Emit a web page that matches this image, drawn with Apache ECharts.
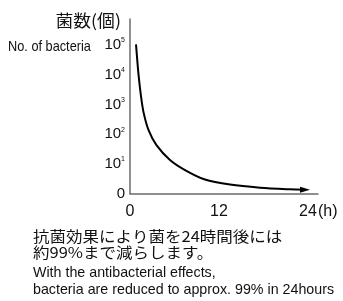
<!DOCTYPE html>
<html>
<head>
  <meta charset="UTF-8">
  <title>菌数</title>
  <script src="https://cdn.jsdelivr.net/npm/echarts@6/dist/echarts.min.js"></script>
</head>
<style type="text/css">
  html,body {padding: 0; margin: 0; background: #fff}
  #chart {width: 343px; height: 301px}
</style>
<body>
<div id="chart"></div>
<script type="text/javascript">
  // hours after treatment
  var hours = [0.81, 1.15, 1.48, 1.82, 2.49, 3.57, 5.39, 7.42, 10.11, 13.48, 17.53, 21.57, 23.6];
  // bacteria count, in steps of the drawn scale (0 .. 10^5 -> 0 .. 5)
  var counts = [5.02, 4.0, 3.28, 2.74, 2.14, 1.63, 1.13, 0.79, 0.47, 0.3, 0.195, 0.14, 0.125];
  var xTicks = [0, 12, 24];
  var yTicks = ['0', '10{s|1}', '10{s|2}', '10{s|3}', '10{s|4}', '10{s|5}'];
  var textLines = ['抗菌効果により菌を24時間後には', '約99%まで減らします。'];
  var enLines = ['With the antibacterial effects,', 'bacteria are reduced to approx. 99% in 24hours'];

  var sans = '"Liberation Sans", Arial, sans-serif';
  var jp = '"Noto Sans CJK JP", sans-serif';

  var data = hours.map(function (h, i) { return [h, counts[i]]; });
  var last = data.pop();
  data.push({value: last, symbol: 'triangle', symbolSize: [6, 10], symbolRotate: -90});

  function label(x, y, text, font, scaleX, align) {
    return {
      type: 'text', x: x, y: y, scaleX: scaleX || 1,
      style: {text: text, font: font, fill: '#111', textAlign: align || 'left', textVerticalAlign: 'middle'}
    };
  }

  var option = {
    animation: false,
    grid: {left: 130, right: 25, top: 19, bottom: 107.5},
    xAxis: {
      type: 'value', min: 0, max: 25.35, interval: 12,
      splitLine: {show: false},
      axisTick: {show: false},
      axisLine: {lineStyle: {color: '#6b6b6b', width: 1.5}},
      axisLabel: {
        margin: 10, color: '#111', fontSize: 16, fontFamily: sans,
        formatter: function (v) { return xTicks.indexOf(v) >= 0 ? String(v) : ''; }
      }
    },
    yAxis: {
      type: 'value', min: 0, max: 5.875, interval: 1,
      splitLine: {show: false},
      axisTick: {show: false},
      axisLine: {show: true, lineStyle: {color: '#6b6b6b', width: 1.5}},
      axisLabel: {
        margin: 5, color: '#111', fontSize: 15, fontFamily: sans,
        formatter: function (v) { return yTicks[v] || ''; },
        rich: {s: {fontSize: 7, fontFamily: sans, color: '#111', padding: [0, 0, 9, 0]}}
      }
    },
    series: [{
      type: 'line', smooth: 0.3, symbol: 'none', showSymbol: true,
      lineStyle: {color: '#000', width: 2},
      itemStyle: {color: '#000'},
      data: data
    }],
    graphic: [
      label(121, 21, '菌数(個)', '17px ' + jp, 1.05, 'right'),
      label(8, 47, 'No. of bacteria', '15px ' + sans, 0.85),
      label(318, 212, '(h)', '16px ' + sans, 1),
      label(33, 236.5, textLines[0], '15px ' + jp, 1.1),
      label(33, 252, textLines[1], '15px ' + jp, 1.1),
      label(33, 273, enLines[0], '15px ' + sans, 0.95),
      label(33, 290, enLines[1], '15px ' + sans, 0.95)
    ]
  };

  var myChart = echarts.init(document.getElementById('chart'));
  myChart.setOption(option);
</script>
</body>
</html>
